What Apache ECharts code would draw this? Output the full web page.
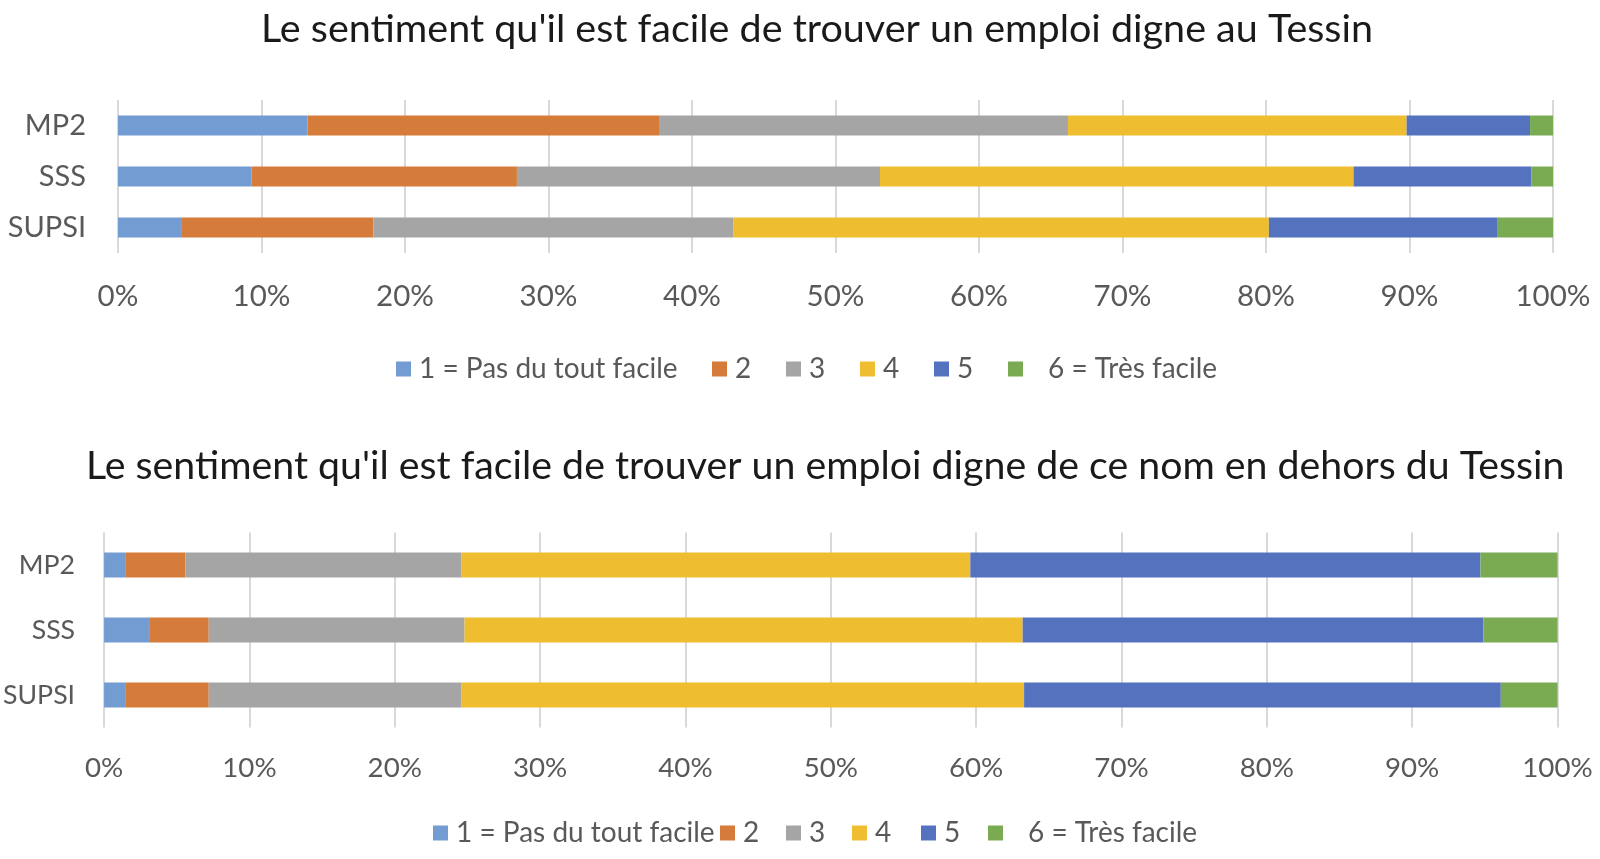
<!DOCTYPE html>
<html><head><meta charset="utf-8">
<script src="https://cdn.jsdelivr.net/npm/echarts@6/dist/echarts.min.js"></script>
<style>html,body{margin:0;padding:0;background:#fff}#c{width:1600px;height:859px}</style>
</head><body><div id="c"></div>
<script>
const categories = ['MP2', 'SSS', 'SUPSI'];
const levels = ['1 = Pas du tout facile', '2', '3', '4', '5', '6 = Très facile'];
const colors = ['#729cd2', '#d57c3a', '#a5a5a5', '#eebe30', '#5572be', '#7aab52'];
const xTicks = [0, 10, 20, 30, 40, 50, 60, 70, 80, 90, 100];
const title1 = "Le sentiment qu'il est facile de trouver un emploi digne au Tessin";
const title2 = "Le sentiment qu'il est facile de trouver un emploi digne de ce nom en dehors du Tessin";
// Ticino: one array per level, values for MP2, SSS, SUPSI (%)
const ticino1 = [13.2, 9.3, 4.4];
const ticino2 = [24.5, 18.5, 13.4];
const ticino3 = [28.5, 25.3, 25.1];
const ticino4 = [23.6, 33.0, 37.3];
const ticino5 = [8.6, 12.4, 15.9];
const ticino6 = [1.6, 1.5, 3.9];
// Outside Ticino
const outside1 = [1.5, 3.1, 1.5];
const outside2 = [4.1, 4.1, 5.7];
const outside3 = [19.0, 17.6, 17.4];
const outside4 = [35.0, 38.4, 38.7];
const outside5 = [35.1, 31.7, 32.8];
const outside6 = [5.3, 5.1, 3.9];

const ticino = [ticino1, ticino2, ticino3, ticino4, ticino5, ticino6];
const outside = [outside1, outside2, outside3, outside4, outside5, outside6];
const FONT = 'Lato';
const LABEL = '#595959';

function xAxis(gi, fs, margin) {
  return {
    type: 'value', gridIndex: gi, min: xTicks[0], max: xTicks[xTicks.length - 1], interval: xTicks[1] - xTicks[0],
    axisLine: {show: false}, axisTick: {show: false},
    splitLine: {show: true, lineStyle: {color: '#d9d9d9', width: 2}},
    axisLabel: {formatter: v => v + '%', color: LABEL, fontSize: fs, fontFamily: FONT, margin: margin}
  };
}
function yAxis(gi, fs, margin) {
  return {
    type: 'category', gridIndex: gi, data: categories, inverse: true,
    axisLine: {show: false}, axisTick: {show: false},
    axisLabel: {color: LABEL, fontSize: fs, fontFamily: FONT, margin: margin}
  };
}
const series = [];
ticino.forEach((arr, i) => series.push({
  name: levels[i], type: 'bar', stack: 'a', xAxisIndex: 0, yAxisIndex: 0,
  data: arr, barWidth: 20, itemStyle: {color: colors[i]}, emphasis: {disabled: true}
}));
outside.forEach((arr, i) => series.push({
  name: levels[i], type: 'bar', stack: 'b', xAxisIndex: 1, yAxisIndex: 1,
  data: arr, barWidth: 25, itemStyle: {color: colors[i]}, emphasis: {disabled: true}
}));
// one legend component per item so each can sit where the reference puts it
const legendLeft1 = [396, 712, 786, 860, 934, 1008];
const legendLeft2 = [433, 720, 786, 852, 921, 988];
function legends(lefts, centerY, fs) {
  return levels.map((name, i) => ({
    data: [name], left: lefts[i], top: centerY - 15, padding: 0,
    itemWidth: 15, itemHeight: 15, icon: 'rect',
    textStyle: {color: LABEL, fontSize: fs, fontFamily: FONT, padding: [0, 0, 0, i === 5 ? 20 : 3]}
  }));
}
const chart = echarts.init(document.getElementById('c'));
chart.setOption({
  animation: false,
  color: colors,
  title: [
    {text: title1, left: 256, top: 4, textStyle: {fontFamily: FONT, fontSize: 39.5, fontWeight: 'normal', color: '#1a1a1a'}},
    {text: title2, left: 81, top: 442, textStyle: {fontFamily: FONT, fontSize: 39.3, fontWeight: 'normal', color: '#1a1a1a'}}
  ],
  legend: legends(legendLeft1, 370, 28).concat(legends(legendLeft2, 834, 28)),
  grid: [
    {left: 118, right: 47, top: 100, height: 153},
    {left: 102.5, right: 42.5, top: 532.5, height: 195}
  ],
  xAxis: [xAxis(0, 29.5, 28), xAxis(1, 27.7, 27)],
  yAxis: [yAxis(0, 29, 32), yAxis(1, 26.7, 29)],
  series: series
});
</script></body></html>
